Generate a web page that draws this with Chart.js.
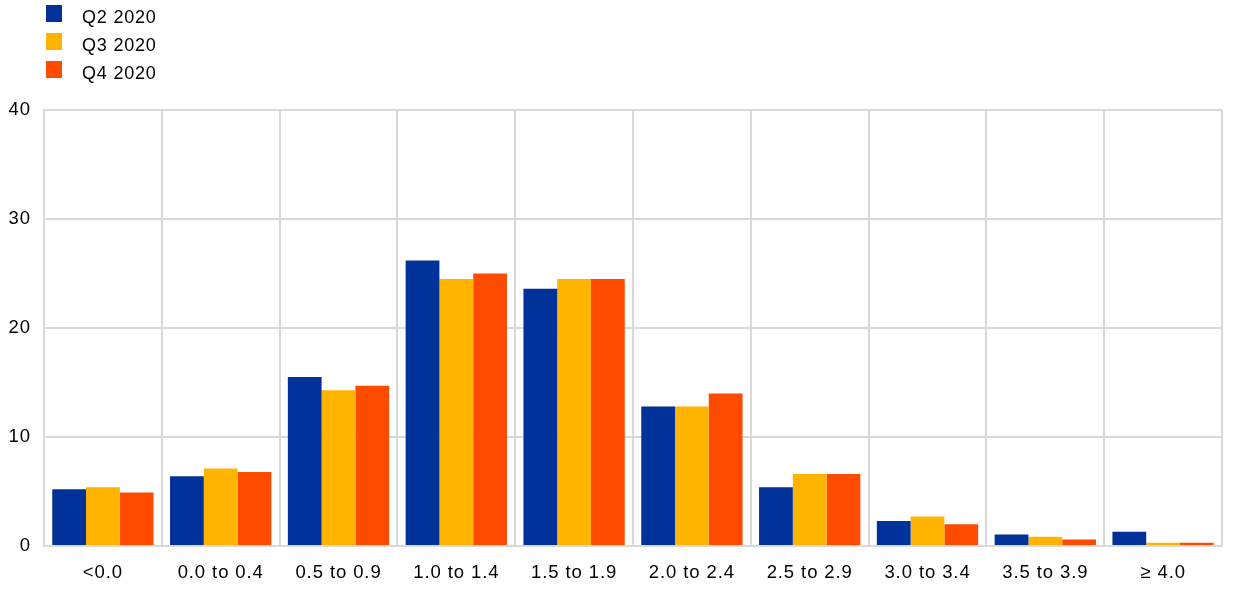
<!DOCTYPE html>
<html><head><meta charset="utf-8">
<script src="https://cdn.jsdelivr.net/npm/chart.js@4/dist/chart.umd.min.js"></script>
<style>html,body{margin:0;padding:0;background:#fff;}#wrap{width:1240px;height:591px;position:relative;}</style>
</head><body><div id="wrap"><canvas id="c" width="1240" height="591"></canvas></div>
<script>
const categories = ["<0.0","0.0 to 0.4","0.5 to 0.9","1.0 to 1.4","1.5 to 1.9","2.0 to 2.4","2.5 to 2.9","3.0 to 3.4","3.5 to 3.9","\u2265 4.0"];
const seriesNames = ["Q2 2020","Q3 2020","Q4 2020"];
const q2_2020 = [5.2, 6.4, 15.5, 26.2, 23.6, 12.8, 5.4, 2.3, 1.05, 1.3];
const q3_2020 = [5.4, 7.1, 14.3, 24.5, 24.5, 12.8, 6.6, 2.7, 0.85, 0.3];
const q4_2020 = [4.9, 6.8, 14.7, 25.0, 24.5, 14.0, 6.6, 2.0, 0.6, 0.3];
const yTicks = [0, 10, 20, 30, 40];
const colors = ["#003299", "#FFB400", "#FF4B00"];

const FONT = "'Liberation Sans', Arial, sans-serif";
Chart.defaults.font.family = FONT;
Chart.defaults.font.size = 18.5;
Chart.defaults.color = "#000";

const SP = '0.9px';
const spacingPlugin = {
  id: 'spacing',
  beforeInit(chart) { chart.ctx.letterSpacing = SP; },
  beforeLayout(chart) { chart.ctx.letterSpacing = SP; },
  beforeDraw(chart) { chart.ctx.letterSpacing = SP; }
};

const legendPlugin = {
  id: 'vlegend',
  afterDraw(chart) {
    const ctx = chart.ctx;
    ctx.save();
    chart.data.datasets.forEach((ds, i) => {
      const y = 5 + i * 28;
      ctx.fillStyle = ds.backgroundColor;
      ctx.fillRect(46, y, 16, 17);
      ctx.fillStyle = "#000";
      ctx.font = "18px " + FONT;
      ctx.letterSpacing = '0.8px';
      ctx.textBaseline = "alphabetic";
      ctx.textAlign = "left";
      ctx.fillText(ds.label, 82, y + 18);
    });
    ctx.restore();
  }
};

new Chart(document.getElementById('c'), {
  type: 'bar',
  data: {
    labels: categories,
    datasets: [q2_2020, q3_2020, q4_2020].map((d, i) => ({
      label: seriesNames[i], data: d, backgroundColor: colors[i],
      barPercentage: 1.0, categoryPercentage: 0.86
    }))
  },
  options: {
    responsive: false, animation: false,
    layout: { padding: { top: 110, right: 18, bottom: 0, left: 0 } },
    plugins: { legend: { display: false }, tooltip: { enabled: false } },
    scales: {
      x: {
        grid: { color: "#d9d9d9", lineWidth: 2, drawTicks: false, offset: true },
        border: { color: "#d9d9d9", width: 2 },
        ticks: { padding: 16, maxRotation: 0, autoSkip: false },
        afterFit(s) { s.height = 45; }
      },
      y: {
        min: 0, max: 40,
        afterBuildTicks(s) { s.ticks = yTicks.map(v => ({ value: v })); },
        grid: { color: "#d9d9d9", lineWidth: 2, drawTicks: false },
        border: { color: "#d9d9d9", width: 2 },
        ticks: { padding: 13 },
        afterFit(s) { s.width = 44; }
      }
    }
  },
  plugins: [spacingPlugin, legendPlugin]
});
</script></body></html>
